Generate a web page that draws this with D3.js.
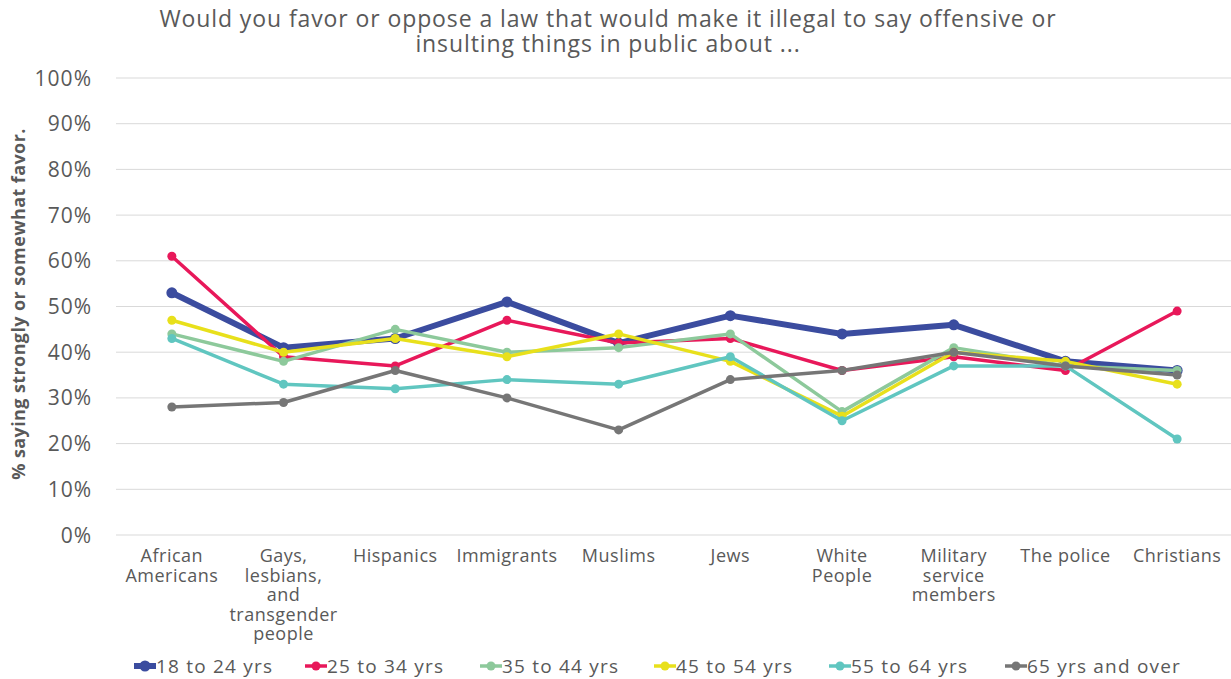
<!DOCTYPE html>
<html><head><meta charset="utf-8">
<script src="https://cdn.jsdelivr.net/npm/d3@7"></script>
<style>body{margin:0;background:#fff}svg{display:block}text{font-family:"Open Sans",sans-serif;fill:#595959}</style>
</head><body><svg id="c" width="1231" height="679"></svg>
<script>
const categories = [["African","Americans"],["Gays,","lesbians,","and","transgender","people"],["Hispanics"],["Immigrants"],["Muslims"],["Jews"],["White","People"],["Military","service","members"],["The police"],["Christians"]];
const seriesNames = ["18 to 24 yrs","25 to 34 yrs","35 to 44 yrs","45 to 54 yrs","55 to 64 yrs","65 yrs and over"];
const s18 = [53,41,43,51,42,48,44,46,38,36];
const s25 = [61,39,37,47,42,43,36,39,36,49];
const s35 = [44,38,45,40,41,44,27,41,37,36];
const s45 = [47,40,43,39,44,38,26,40,38,33];
const s55 = [43,33,32,34,33,39,25,37,37,21];
const s65 = [28,29,36,30,23,34,36,40,37,35];
const yTicks = [0,10,20,30,40,50,60,70,80,90,100];
const colors = ["#3b4c9f","#e8185a","#8dc99b","#e8e01b","#60c6c0","#767676"];
const widths = [6,3.5,3.5,3.5,3.5,3.5];
const radii = [5.5,4.5,4.5,4.5,4.5,4.5];
const series = [s18,s25,s35,s45,s55,s65];

const svg = d3.select("#c");
const x = d3.scaleBand().domain(d3.range(categories.length)).range([116,1233]);
const y = d3.scaleLinear().domain([0,100]).range([535,78]);

svg.append("g").selectAll("line").data(yTicks).join("line")
  .attr("x1",116).attr("x2",1231).attr("y1",d=>y(d)).attr("y2",d=>y(d))
  .attr("stroke","#d9d9d9").attr("stroke-width",1);

svg.append("g").selectAll("text").data(yTicks).join("text")
  .attr("x",92).attr("y",d=>y(d)).attr("dy","0.36em").attr("text-anchor","end")
  .style("font-size","21px").style("letter-spacing","1px").text(d=>d+"%");

svg.append("text").attr("transform","translate(25,304) rotate(-90)").attr("text-anchor","middle")
  .style("font-size","18px").style("font-weight","bold").style("letter-spacing","0.4px").text("% saying strongly or somewhat favor.");

const xl = svg.append("g").selectAll("text").data(categories).join("text")
  .attr("text-anchor","middle").style("font-size","18px").style("letter-spacing","0.5px")
  .attr("transform",(d,i)=>`translate(${x(i)+x.bandwidth()/2},562)`);
xl.selectAll("tspan").data(d=>d).join("tspan").attr("x",0).attr("y",(d,i)=>i*19.5).text(d=>d);

svg.append("text").attr("x",608).attr("y",27).attr("text-anchor","middle").style("font-size","23px").style("letter-spacing","0.9px").text("Would you favor or oppose a law that would make it illegal to say offensive or");
svg.append("text").attr("x",608).attr("y",52).attr("text-anchor","middle").style("font-size","23px").style("letter-spacing","0.9px").text("insulting things in public about ...");

const line = d3.line().x((d,i)=>x(i)+x.bandwidth()/2).y(d=>y(d));
series.forEach((s,k)=>{
  const g = svg.append("g");
  g.append("path").datum(s).attr("d",line).attr("fill","none").attr("stroke",colors[k])
    .attr("stroke-width",widths[k]).attr("stroke-linejoin","round");
  g.selectAll("circle").data(s).join("circle").attr("cx",(d,i)=>x(i)+x.bandwidth()/2).attr("cy",d=>y(d))
    .attr("r",radii[k]).attr("fill",colors[k]);
});

const legX = [134,305,480,654,829,1005];
seriesNames.forEach((n,k)=>{
  const g = svg.append("g").attr("transform",`translate(${legX[k]},666)`);
  g.append("line").attr("x1",0).attr("x2",22).attr("stroke",colors[k]).attr("stroke-width",widths[k]);
  g.append("circle").attr("cx",11).attr("r",radii[k]).attr("fill",colors[k]);
  g.append("text").attr("x",22).attr("dy","0.36em").style("font-size","19px").style("letter-spacing","1.2px").text(n);
});
</script></body></html>
